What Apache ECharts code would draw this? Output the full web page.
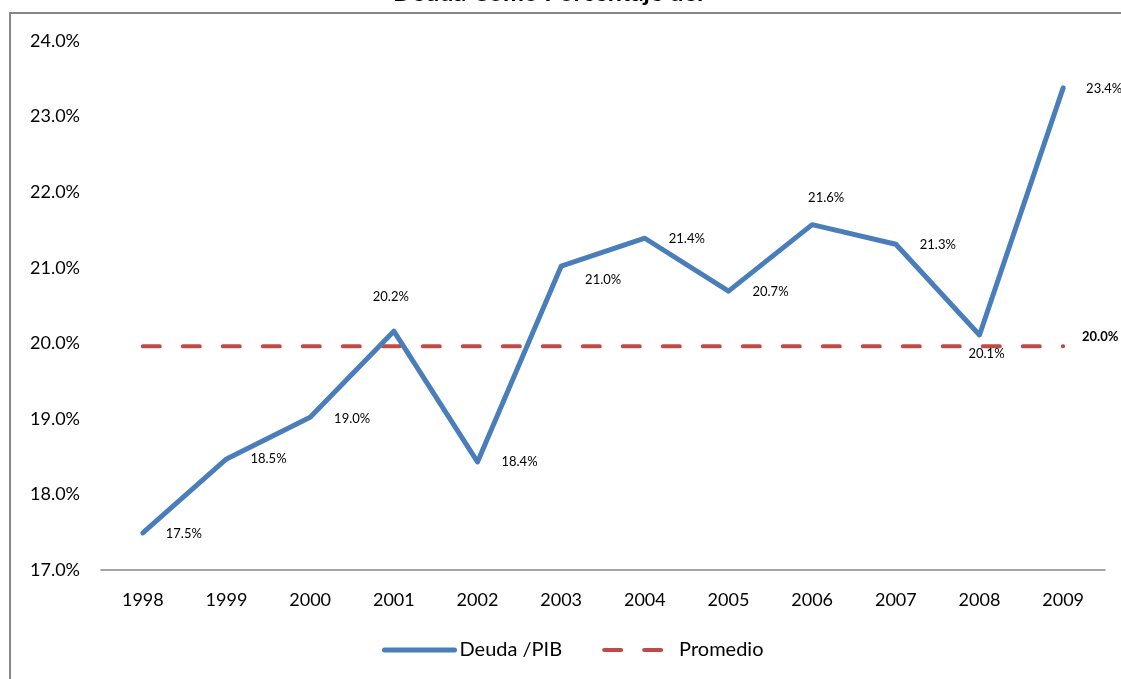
<!DOCTYPE html>
<html>
<head>
<meta charset="utf-8">
<script src="https://cdn.jsdelivr.net/npm/echarts@6/dist/echarts.min.js"></script>
<style>
  html, body { margin: 0; padding: 0; background: #ffffff; }
  #chart { width: 1121px; height: 679px; }
</style>
</head>
<body>
<div id="chart"></div>
<script>
// Debt-to-GDP ratio, 1998–2009, with the period average
const years = ['1998', '1999', '2000', '2001', '2002', '2003', '2004', '2005', '2006', '2007', '2008', '2009'];
const deudaPib = [17.49, 18.47, 19.02, 20.16, 18.43, 21.02, 21.39, 20.69, 21.57, 21.31, 20.11, 23.38];
const promedio = 19.96;
const yTicks = { min: 17, max: 24, step: 1 };

// label placement around each point (pixel offsets from the point)
const labelOffsets = [
  [41, 1], [42, 0], [42, 1], [-3, -34], [42, 0], [42, 14],
  [42, 1], [42, 1], [14, -27], [42, 1], [7, 19], [41, 1]
];

const FONT = 'Lato, "Open Sans", sans-serif';
const BLUE = '#4A7EBB';
const RED = '#BE4B48';

const pct = v => v.toFixed(1) + '%';

const pointLabel = (offset, bold) => ({
  show: true,
  position: 'inside',
  offset: offset,
  fontFamily: FONT,
  fontSize: 13,
  fontWeight: bold ? 'bold' : 'normal',
  color: '#000',
  formatter: p => pct(p.value)
});

const deudaData = deudaPib.map((v, i) => ({
  value: v,
  label: pointLabel(labelOffsets[i], false)
}));

const promedioData = years.map((y, i) => {
  const item = { value: promedio };
  if (i === years.length - 1) item.label = pointLabel([37, -9], true);
  return item;
});

const chart = echarts.init(document.getElementById('chart'), null, { renderer: 'canvas' });

chart.setOption({
  animation: false,
  backgroundColor: '#ffffff',
  title: {
    text: 'Deuda Como Porcentaje del',
    left: 388,
    top: -25,
    textStyle: { fontFamily: FONT, fontWeight: 'bold', fontSize: 25, color: '#000' }
  },
  graphic: [{
    type: 'rect',
    shape: { x: 10, y: 13, width: 1200, height: 700 },
    style: { fill: 'none', stroke: '#868686', lineWidth: 2 },
    silent: true,
    z: -1
  }],
  grid: { left: 101, right: 16, top: 41, bottom: 109, containLabel: false },
  legend: {
    bottom: 14,
    left: 377,
    itemWidth: 70,
    itemHeight: 12,
    itemGap: 40,
    lineStyle: { width: 'inherit' },
    itemStyle: { opacity: 0 },
    textStyle: { fontFamily: FONT, fontSize: 20, color: '#000' },
    data: ['Deuda /PIB', 'Promedio']
  },
  xAxis: {
    type: 'category',
    data: years,
    boundaryGap: true,
    axisLine: { show: true, lineStyle: { color: '#868686', width: 1.5 } },
    axisTick: { show: false },
    axisLabel: { margin: 21, fontFamily: FONT, fontSize: 18, color: '#000' },
    splitLine: { show: false }
  },
  yAxis: {
    type: 'value',
    min: yTicks.min,
    max: yTicks.max,
    interval: yTicks.step,
    axisLine: { show: false },
    axisTick: { show: false },
    splitLine: { show: false },
    axisLabel: { margin: 21, fontFamily: FONT, fontSize: 18, color: '#000', formatter: v => pct(v) }
  },
  series: [
    {
      name: 'Promedio',
      type: 'line',
      data: promedioData,
      symbol: 'circle',
      symbolSize: 1,
      itemStyle: { color: 'rgba(0,0,0,0)' },
      lineStyle: { color: RED, width: 4, type: [17, 23], cap: 'round' },
      label: { show: false },
      z: 2
    },
    {
      name: 'Deuda /PIB',
      type: 'line',
      data: deudaData,
      symbol: 'circle',
      symbolSize: 1,
      itemStyle: { color: BLUE },
      lineStyle: { color: BLUE, width: 5, cap: 'round', join: 'round' },
      label: pointLabel([0, 0], false),
      z: 3
    }
  ]
});
</script>
</body>
</html>
